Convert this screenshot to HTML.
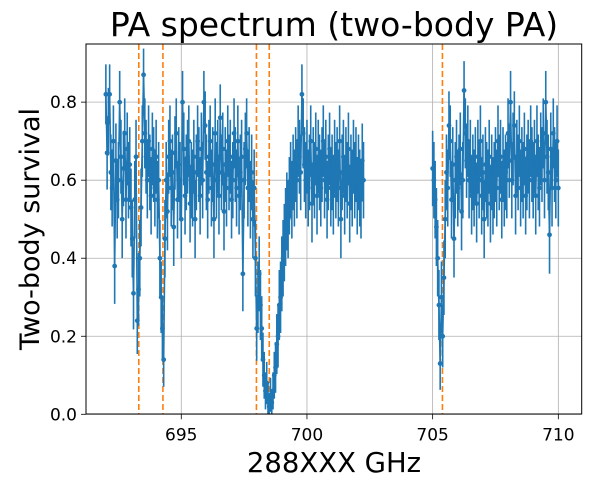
<!DOCTYPE html>
<html><head><meta charset="utf-8"><style>
body{margin:0;background:#fff;}
svg{display:block;font-family:"DejaVu Sans","Liberation Sans",sans-serif;}
</style></head><body>
<svg id="chart" width="592" height="487" viewBox="0 0 592 487">
<text x="334" y="36" text-anchor="middle" font-size="33" fill="#000">PA spectrum (two-body PA)</text>
<text x="334" y="472" text-anchor="middle" font-size="27.5" fill="#000">288XXX GHz</text>
<text transform="translate(39,229) rotate(-90)" text-anchor="middle" font-size="27" fill="#000">Two-body survival</text>
<g id="grid"></g>
<g id="vlines"></g>
<g id="series"></g>
<rect x="86" y="44" width="495.7" height="370" fill="none" stroke="#000" stroke-width="1"/>
<g id="ticks"></g>
</svg>
<script>
const xTicks=[695,700,705,710];
const yTicks=[0.0,0.2,0.4,0.6,0.8];
const yTickLabels=["0.0","0.2","0.4","0.6","0.8"];
const resonances=[693.31,694.27,697.99,698.5,705.39];
const segStarts=[692.0,705.0];
const stepGHz=0.05;
const seg1=[0.82,0.67,0.75,0.82,0.62,0.58,0.70,0.38,0.65,0.55,0.60,0.80,0.66,0.50,0.63,0.72,0.55,0.68,0.60,0.64,
0.53,0.45,0.31,0.55,0.66,0.24,0.32,0.40,0.53,0.70,0.87,0.72,0.66,0.60,0.70,0.62,0.56,0.68,0.64,0.58,
0.66,0.55,0.60,0.40,0.30,0.22,0.14,0.45,0.60,0.52,0.66,0.70,0.58,0.62,0.48,0.67,0.72,0.55,0.64,0.60,
0.50,0.80,0.68,0.56,0.62,0.66,0.70,0.54,0.60,0.58,0.66,0.50,0.62,0.70,0.64,0.56,0.68,0.60,0.80,0.74,
0.62,0.55,0.66,0.70,0.58,0.64,0.50,0.72,0.60,0.66,0.56,0.76,0.62,0.68,0.52,0.64,0.58,0.70,0.62,0.66,
0.55,0.60,0.72,0.64,0.58,0.70,0.56,0.62,0.66,0.36,0.60,0.68,0.72,0.58,0.64,0.55,0.62,0.50,0.58,0.40,
0.22,0.30,0.36,0.28,0.22,0.14,0.10,0.06,0.08,0.04,0.02,0.05,0.03,0.06,0.10,0.12,0.18,0.20,0.28,0.30,
0.36,0.40,0.44,0.48,0.52,0.50,0.56,0.60,0.55,0.62,0.58,0.64,0.60,0.70,0.66,0.62,0.82,0.72,0.64,0.60,
0.66,0.58,0.62,0.70,0.54,0.64,0.60,0.68,0.56,0.66,0.62,0.58,0.64,0.70,0.60,0.66,0.55,0.62,0.68,0.58,
0.62,0.56,0.66,0.60,0.64,0.58,0.70,0.50,0.62,0.66,0.56,0.64,0.60,0.68,0.54,0.62,0.58,0.66,0.60,0.64,
0.56,0.62,0.58,0.55,0.65,0.60];
const seg2=[0.63,0.60,0.55,0.48,0.40,0.28,0.13,0.30,0.20,0.35,0.50,0.62,0.58,0.74,0.70,0.55,0.64,0.45,0.60,0.66,
0.58,0.62,0.68,0.52,0.60,0.83,0.72,0.65,0.70,0.60,0.66,0.56,0.62,0.58,0.64,0.54,0.66,0.60,0.70,0.56,
0.62,0.50,0.64,0.60,0.58,0.66,0.54,0.62,0.56,0.60,0.64,0.58,0.70,0.62,0.66,0.55,0.64,0.58,0.62,0.60,
0.72,0.65,0.80,0.60,0.68,0.74,0.56,0.66,0.62,0.70,0.58,0.64,0.60,0.68,0.56,0.62,0.66,0.60,0.70,0.64,
0.60,0.66,0.56,0.70,0.62,0.58,0.68,0.64,0.72,0.60,0.80,0.66,0.62,0.46,0.68,0.58,0.72,0.64,0.60,0.70,
0.58];
const shotsPerPoint=25;

const X0=86,X1=581.7,Y0=414.3,Y1=44;
const xMin=691.21,xMax=710.93,yMin=0,yMax=0.949;
const sx=v=>X0+(v-xMin)/(xMax-xMin)*(X1-X0);
const sy=v=>Y0-(v-yMin)/(yMax-yMin)*(Y0-Y1);
const NS="http://www.w3.org/2000/svg";
function mk(tag,attrs,parent){const e=document.createElementNS(NS,tag);for(const k in attrs)e.setAttribute(k,attrs[k]);parent.appendChild(e);return e;}
const grid=document.getElementById('grid'),ticks=document.getElementById('ticks'),vl=document.getElementById('vlines'),ser=document.getElementById('series');
xTicks.forEach(t=>{
  const g=mk('line',{x1:sx(t),x2:sx(t),y1:Y1,y2:Y0,stroke:'#b0b0b0','stroke-width':0.8},grid);
  
  
  const tk=mk('line',{x1:sx(t),x2:sx(t),y1:Y0,y2:Y0+5,stroke:'#000','stroke-width':0.8},ticks);
  
  
  const lb=mk('text',{x:sx(t),y:Y0+26,'text-anchor':'middle','font-size':17},ticks);
  lb.textContent=String(t);
  
  
});
yTicks.forEach((t,i)=>{
  const g=mk('line',{x1:X0,x2:X1,y1:sy(t),y2:sy(t),stroke:'#b0b0b0','stroke-width':0.8},grid);
  
  
  const tk=mk('line',{x1:X0-5,x2:X0,y1:sy(t),y2:sy(t),stroke:'#000','stroke-width':0.8},ticks);
  
  
  const lb=mk('text',{x:X0-9,y:sy(t)+6,'text-anchor':'end','font-size':17},ticks);
  lb.textContent=yTickLabels[i];
  
  
});
resonances.forEach(r=>{
  const l=mk('line',{x1:sx(r),x2:sx(r),y1:Y1,y2:Y0,stroke:'#ff7f0e','stroke-width':1.6,'stroke-dasharray':'6,3'},vl);
  
  
});
[seg1,seg2].forEach((vals,si)=>{
  const pts=vals.map((v,i)=>[sx(segStarts[si]+i*stepGHz),v]);
  pts.forEach(([x,v])=>{
    const e=Math.sqrt(Math.max(v*(1-v),0.01)/shotsPerPoint);
    const b=mk('line',{x1:x,x2:x,y1:sy(Math.max(0,v-e)),y2:sy(v+e),stroke:'#1f77b4','stroke-width':1.6},ser);
    
    
  });
  const p=mk('polyline',{points:pts.map(([x,v])=>x+','+sy(v)).join(' '),fill:'none',stroke:'#1f77b4','stroke-width':1.6},ser);
  
  
  pts.forEach(([x,v])=>{
    const c=mk('circle',{cx:x,cy:sy(v),r:2.4,fill:'#1f77b4'},ser);
    
    
  });
});
</script>
</body></html>
